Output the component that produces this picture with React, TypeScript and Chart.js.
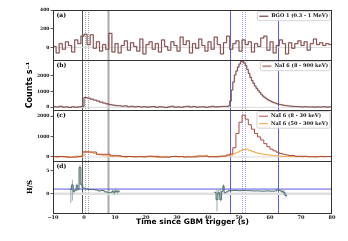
import React, { useEffect, useRef } from 'react';
import { Chart, registerables } from 'chart.js';
Chart.register(...registerables);

// ---------- axis ticks ----------
const xTicks = [-10, 0, 10, 20, 30, 40, 50, 60, 70, 80];
const yTicksA = [0, 200, 400];
const yTicksB = [0, 1000, 2000];
const yTicksC = [0, 1000, 2000];
const yTicksD = [0, 5];

// ---------- (a) BGO 1 (0.3 - 1 MeV), 1 s bins starting at -10 s ----------
const bgoStart = -10;
const bgoRate = [
  10, -60, 40, -20, 60, 20, -50, 80, 40, 120,
  140, 30, 135, -10, 60, -40, 30, -20, 150, -50,
  40, -60, 20, 70, -30, 50, 10, -40, 90, -70,
  30, 60, -20, 40, -50, 80, 10, -30, 60, 20,
  -40, 110, 30, 70, -60, 40, -10, 90, 20, -40,
  60, -20, 110, 30, -70, 50, 120, -20, 40, 70,
  -40, 80, 30, 60, -50, 40, 10, 100, 120, -30,
  60, -60, 20, 80, 40, -70, 50, -10, 40, 70,
  20, 60, -30, 40, 90, 30, 50, 20, 40, 30,
];

// ---------- (b) NaI 6 (8 - 900 keV) ----------
const naiEdgesCoarse1 = [-10, -9, -8, -7, -6, -5, -4, -3, -2, -1, 0, 1, 2, 3, 4, 5, 6, 7, 8, 9, 10, 11, 12, 13, 14, 15, 16, 17, 18, 19, 20, 21, 22, 23, 24, 25, 26, 27, 28, 29, 30, 31, 32, 33, 34, 35, 36, 37, 38, 39, 40, 41, 42, 43, 44, 45];
const naiEdgesFine = [46, 46.5, 47, 47.5, 48, 48.5, 49, 49.5, 50, 50.5, 51, 51.5, 52, 52.5, 53, 53.5, 54, 54.5, 55, 55.5, 56, 56.5, 57, 57.5, 58, 58.5, 59, 59.5, 60, 60.5, 61, 61.5, 62, 62.5, 63, 63.5, 64, 64.5, 65, 65.5];
const naiEdgesCoarse2 = [66, 67, 68, 69, 70, 71, 72, 73, 74, 75, 76, 77, 78, 79];
const naiEnd = 80;
const naiRate = [
  40, 20, 60, 10, 30, -10, 40, 0, 30, 60,
  620, 580, 520, 460, 400, 330, 270, 220, 170, 140,
  110, 100, 70, 90, 40, 60, 30, 50, 20, 40,
  10, 30, 50, 0, 40, 20, -10, 30, 60, 10,
  30, 0, 40, 60, 20, 50, 10, 30, 40, 0,
  30, 60, 20, 40, 50, 60,
  60, 90, 400, 1100, 1600, 2050, 2300, 2550, 2750, 2900,
  2940, 2800, 2650, 2400, 2150, 1900, 1700, 1520, 1350, 1200,
  1070, 950, 830, 720, 640, 570, 500, 440, 390, 340,
  300, 270, 230, 200, 180, 160, 140, 120, 105, 95,
  80, 60, 50, 40, 30, 40, 20, 30, 10, 30, 20, 40, 10, 30,
];

// ---------- (c) NaI 6 (8 - 30 keV), variable bins ----------
const softEdges = [-10, -6, -2, -0.5, 4, 8.5, 12, 16, 20, 24, 28, 32, 36, 40, 44, 46, 47, 48, 49, 50, 51, 52, 53, 54, 55, 56, 57, 58, 59, 60, 61, 62, 63, 64, 65, 66, 68, 72, 76];
const softEnd = 80;
const softRate = [20, -10, 30, 240, 130, 60, 20, 10, 30, -10, 20, 0, 40, 10, 40, 100, 150, 450, 1150, 1700, 2050, 1850, 1580, 1360, 1150, 980, 830, 650, 500, 380, 300, 230, 170, 130, 100, 70, 30, 10, 20];

// ---------- (c) NaI 6 (50 - 300 keV), 1 s bins starting at -10 s ----------
const hardStart = -10;
const hardRate = [
  10, -20, 30, 0, 20, -30, 10, 40, 0, 60,
  270, 250, 210, 170, 130, 100, 80, 60, 40, 30,
  50, 10, 20, -20, 30, 0, -10, 20, 30, -20,
  10, 40, 0, -30, 20, 10, 30, -10, 20, 40,
  0, 10, -20, 30, 10, 20, -10, 50, 20, 60,
  10, 30, 0, 40, 20, 50, 60, 80, 150, 230,
  300, 360, 380, 320, 260, 210, 170, 140, 120, 100,
  80, 65, 50, 35, 20, 40, 20, 30, 10, 20,
  0, 30, 10, 20, -10, 20, 30, 0, 20, 10,
];

// ---------- (d) hardness ratio H/S ----------
const hsBinStart = [
  -4.5, -4.0, -3.5, -3.0, -2.5, -2.0, -1.6, -1.0, -0.4, 0.5,
  1.5, 2.5, 3.5, 4.5, 5.5, 6.5, 7.5, 8.5, 9.0, 9.5,
  10.0, 10.5, 11.0, 11.5,
  42.0, 42.6, 43.2, 43.8, 44.4, 44.8, 45.2, 45.8, 46.5, 48,
  49.5, 51, 52.5, 54, 55.5, 57, 58.5, 60, 61.5, 62.2,
  62.8, 63.5, 64.2, 64.8, 65.5,
];
const hsRatio = [
  0.9, 1.9, 0.5, 0.7, 1.8, 0.9, 5.7, 1.9, 1.2, 1.0,
  0.9, 0.9, 0.8, 0.6, 0.7, 0.4, 0.2, 0.3, 0.5, 0.3,
  0.6, 0.4, 0.5, null,
  0.3, -1.3, 0.2, -1.3, 0.5, 1.7, 0.2, 0.4, 0.65, 0.7,
  0.65, 0.7, 0.65, 0.6, 0.6, 0.55, 0.6, 0.55, 0.6, 0.9,
  0.7, 0.5, 0.3, -0.4, null,
];
const hsLow = [
  -2.0, -1.5, 0.0, null, 0.6, null, 2.0, 1.0, null, null,
  null, null, null, null, null, null, null, null, 0.1, -0.3,
  0.1, 0.0, 0.2, null,
  null, -3.8, -0.4, -1.7, null, 0.6, null, null, null, null,
  null, null, null, null, null, null, null, null, null, 0.6,
  null, 0.1, -0.2, -0.8, null,
];
const hsHigh = [
  1.3, 3.0, 1.0, null, 2.2, null, 6.3, 2.6, null, null,
  null, null, null, null, null, null, null, null, 1.1, 0.8,
  1.3, 0.9, 0.8, null,
  null, 0.9, 0.8, 1.2, null, 2.0, null, null, null, null,
  null, null, null, null, null, null, null, null, null, 1.2,
  null, 1.0, 0.8, 0.2, null,
];
const hsReference = 1;

// ---------- event markers (s) ----------
const markerTimes = [-0.8, 0.2, 1.3, 7.9, 47.0, 51.1, 51.9, 62.5];

// ---------- labels ----------
const panelLabels = ['(a)', '(b)', '(c)', '(d)'];
const legendA = ['BGO 1 (0.3 - 1 MeV)'];
const legendB = ['NaI 6 (8 - 900 keV)'];
const legendC = ['NaI 6 (8 - 30 keV)', 'NaI 6 (50 - 300 keV)'];

// ---------- styles ----------
const C_DARK = '#5b2020';
const C_SHADOW = 'rgba(185,145,145,0.45)';
const C_SOFT = '#b04a3c';
const C_HARD = '#f4a640';
const C_HS = '#4d6b6b';
const C_ERR = '#97acb0';
const C_BLUE = '#5a5ae6';
const markerStyles = [
  { color: '#555', width: 1, dash: [] as number[] },
  { color: '#888', width: 0.8, dash: [1, 1] },
  { color: '#888', width: 0.8, dash: [1, 1] },
  { color: '#aaa', width: 2, dash: [] as number[] },
  { color: C_BLUE, width: 1, dash: [] as number[] },
  { color: '#8c8cf0', width: 0.8, dash: [1, 1] },
  { color: '#8c8cf0', width: 0.8, dash: [1, 1] },
  { color: C_BLUE, width: 1, dash: [] as number[] },
];
const legendStyles: Record<string, { color: string; width: number }[]> = {
  ya: [{ color: C_DARK, width: 1 }],
  yb: [{ color: '#b89a9a', width: 2 }],
  yc: [{ color: C_SOFT, width: 1 }, { color: C_HARD, width: 1 }],
};
const legendTexts: Record<string, string[]> = { ya: legendA, yb: legendB, yc: legendC };
const panelIds = ['ya', 'yb', 'yc', 'yd'];

function stepPoints(edges: number[], values: number[], end: number) {
  const pts = edges.map((x, i) => ({ x, y: values[i] }));
  pts.push({ x: end, y: values[values.length - 1] });
  return pts;
}
function uniformEdges(start: number, n: number) {
  return Array.from({ length: n }, (_, i) => start + i);
}
function fmt(v: number) {
  return v < 0 ? '\u2212' + Math.abs(v) : String(v);
}

const decorPlugin = {
  id: 'decor',
  beforeDatasetsDraw(chart: any) {
    const { ctx, chartArea } = chart;
    const xs = chart.scales.x;
    ctx.save();
    markerTimes.forEach((t, i) => {
      const st = markerStyles[i];
      const px = Math.round(xs.getPixelForValue(t)) + 0.5;
      ctx.beginPath();
      ctx.strokeStyle = st.color;
      ctx.lineWidth = st.width;
      ctx.setLineDash(st.dash);
      ctx.moveTo(px, chartArea.top);
      ctx.lineTo(px, chartArea.bottom);
      ctx.stroke();
    });
    ctx.restore();
  },
  afterDatasetsDraw(chart: any) {
    const { ctx, chartArea } = chart;
    ctx.save();
    panelIds.forEach((id, k) => {
      const s = chart.scales[id];
      ctx.strokeStyle = '#333';
      ctx.lineWidth = 1;
      ctx.setLineDash([]);
      ctx.strokeRect(chartArea.left + 0.5, Math.round(s.top) + 0.5, chartArea.right - chartArea.left - 1, Math.round(s.bottom - s.top));
      ctx.fillStyle = '#000';
      ctx.font = 'bold 6px "DejaVu Serif"';
      ctx.textBaseline = 'middle';
      ctx.textAlign = 'left';
      ctx.fillText(panelLabels[k], chartArea.left + 3.5, s.top + 5.5);
      const texts = legendTexts[id];
      if (texts) {
        ctx.font = 'bold 5px "DejaVu Serif"';
        const tw = Math.max(...texts.map((t) => ctx.measureText(t).width));
        const pad = 2, sample = 9, gap = 3, rowH = 7.5;
        const w = pad + sample + gap + tw + pad;
        const h = texts.length * rowH + 1.5;
        const right = chartArea.right - 2;
        const left = right - w;
        const top = s.top + 1.7;
        ctx.fillStyle = 'rgba(255,255,255,0.85)';
        ctx.strokeStyle = '#c8c8c8';
        ctx.lineWidth = 0.8;
        ctx.beginPath();
        ctx.roundRect(left, top, w, h, 1.5);
        ctx.fill();
        ctx.stroke();
        texts.forEach((t, r) => {
          const cy = top + 0.75 + rowH * r + rowH / 2;
          const st = legendStyles[id][r];
          ctx.strokeStyle = st.color;
          ctx.lineWidth = st.width;
          ctx.beginPath();
          ctx.moveTo(left + pad, cy);
          ctx.lineTo(left + pad + sample, cy);
          ctx.stroke();
          ctx.fillStyle = '#111';
          ctx.fillText(t, left + pad + sample + gap, cy);
        });
      }
    });
    ctx.restore();
  },
};

function yScale(min: number, max: number, ticks: number[], weight: number, stackWeight: number, title?: any) {
  return {
    type: 'linear',
    position: 'left',
    stack: 'panels',
    stackWeight,
    weight,
    min,
    max,
    offset: false,
    afterBuildTicks: (s: any) => {
      s.ticks = ticks.map((v) => ({ value: v }));
    },
    afterFit: (s: any) => {
      s.width = 31;
    },
    grid: { drawOnChartArea: false, tickLength: 2.5, color: '#333', lineWidth: 0.8 },
    border: { display: false },
    ticks: {
      font: { family: 'DejaVu Serif', size: 4.5, weight: 'bold' },
      color: '#111',
      padding: 1,
      callback: (v: number) => fmt(v),
    },
    title: title || { display: false },
  };
}

export default function App() {
  const ref = useRef<HTMLCanvasElement>(null);
  useEffect(() => {
    const hsPts: any[] = [];
    hsBinStart.forEach((t, i) => {
      const v = hsRatio[i];
      if (v === null) {
        hsPts.push({ x: t, y: hsRatio[i - 1] });
        hsPts.push({ x: t, y: null });
      } else hsPts.push({ x: t, y: v });
    });
    const errPts: any[] = [];
    hsLow.forEach((lo, i) => {
      const hi = hsHigh[i];
      if (lo !== null && hi !== null) {
        const xc = (hsBinStart[i] + hsBinStart[i + 1]) / 2;
        errPts.push({ x: xc, y: lo }, { x: xc, y: hi }, { x: xc, y: null });
      }
    });
    const bgoPts = stepPoints(uniformEdges(bgoStart, bgoRate.length), bgoRate, bgoStart + bgoRate.length);
    const naiPts = stepPoints([...naiEdgesCoarse1, ...naiEdgesFine, ...naiEdgesCoarse2], naiRate, naiEnd);
    const softPts = stepPoints(softEdges, softRate, softEnd);
    const hardPts = stepPoints(uniformEdges(hardStart, hardRate.length), hardRate, hardStart + hardRate.length);
    const hline = (y: number) => [{ x: -10, y }, { x: 80, y }];

    const base = { pointRadius: 0, fill: false, tension: 0, xAxisID: 'x' };
    const datasets: any[] = [
      { ...base, label: 'ref a', data: hline(0), yAxisID: 'ya', borderColor: '#dadada', borderWidth: 1, order: 9 },
      { ...base, label: 'ref b', data: hline(0), yAxisID: 'yb', borderColor: '#dadada', borderWidth: 1, order: 9 },
      { ...base, label: 'ref c', data: hline(0), yAxisID: 'yc', borderColor: '#dadada', borderWidth: 1, order: 9 },
      { ...base, label: 'ref d0', data: hline(0), yAxisID: 'yd', borderColor: '#e0e0e0', borderWidth: 2.5, order: 9 },
      { ...base, label: 'ref d1', data: hline(hsReference), yAxisID: 'yd', borderColor: C_BLUE, borderWidth: 1, order: 8 },
      { ...base, label: 'BGO shadow', data: bgoPts, yAxisID: 'ya', borderColor: C_SHADOW, borderWidth: 1.6, stepped: true, order: 5 },
      { ...base, label: legendA[0], data: bgoPts, yAxisID: 'ya', borderColor: C_DARK, borderWidth: 0.7, stepped: true, order: 4 },
      { ...base, label: 'NaI shadow', data: naiPts, yAxisID: 'yb', borderColor: C_SHADOW, borderWidth: 1.6, stepped: true, order: 5 },
      { ...base, label: legendB[0], data: naiPts, yAxisID: 'yb', borderColor: C_DARK, borderWidth: 0.7, stepped: true, order: 4 },
      { ...base, label: legendC[1], data: hardPts, yAxisID: 'yc', borderColor: C_HARD, borderWidth: 1, stepped: true, order: 4 },
      { ...base, label: legendC[0], data: softPts, yAxisID: 'yc', borderColor: C_SOFT, borderWidth: 1, stepped: true, order: 3 },
      { ...base, label: 'H/S err', data: errPts, yAxisID: 'yd', borderColor: C_ERR, borderWidth: 1, order: 5 },
      { ...base, label: 'H/S', data: hsPts, yAxisID: 'yd', borderColor: C_HS, borderWidth: 1, stepped: true, order: 3 },
    ];

    const chart = new Chart(ref.current as HTMLCanvasElement, {
      type: 'line',
      data: { datasets },
      plugins: [decorPlugin],
      options: {
        responsive: false,
        animation: false,
        devicePixelRatio: 1,
        layout: { padding: { left: 22, right: 16, top: 10, bottom: 12 } },
        plugins: { legend: { display: false }, tooltip: { enabled: false } },
        scales: {
          x: {
            type: 'linear',
            position: 'bottom',
            min: -10,
            max: 80,
            offset: false,
            afterBuildTicks: (s: any) => {
              s.ticks = xTicks.map((v) => ({ value: v }));
            },
            afterFit: (s: any) => {
              s.height = 16;
            },
            grid: { drawOnChartArea: false, drawTicks: false },
            border: { display: false },
            ticks: {
              font: { family: 'DejaVu Serif', size: 5, weight: 'bold' },
              color: '#111',
              padding: 1.5,
              maxRotation: 0,
              autoSkip: false,
              callback: (v: number) => fmt(v),
            },
            title: {
              display: true,
              text: 'Time since GBM trigger (s)',
              font: { family: 'DejaVu Sans', size: 7.5, weight: 'bold' },
              color: '#000',
              padding: { top: 0, bottom: 2 },
            },
          },
          ya: yScale(-135, 400, yTicksA, 4, 50),
          yb: yScale(-170, 3000, yTicksB, 3, 50, {
            display: true,
            text: 'Counts s\u207B\u00B9',
            font: { family: 'DejaVu Sans', size: 8, weight: 'bold' },
            color: '#000',
            padding: { top: 3, bottom: 0 },
          }),
          yc: yScale(-200, 2300, yTicksC, 2, 51),
          yd: yScale(-4.2, 7.1, yTicksD, 1, 52, {
            display: true,
            text: 'H/S',
            font: { family: 'DejaVu Serif', size: 7, weight: 'bold' },
            color: '#000',
            padding: { top: 4, bottom: 0 },
          }),
        } as any,
      },
    } as any);
    return () => chart.destroy();
  }, []);

  return (
    <div style={{ position: 'fixed', left: 0, top: 0, width: 348, height: 241, background: '#fff' }}>
      <canvas ref={ref} width={348} height={241} style={{ display: 'block', width: 348, height: 241 }} />
    </div>
  );
}
